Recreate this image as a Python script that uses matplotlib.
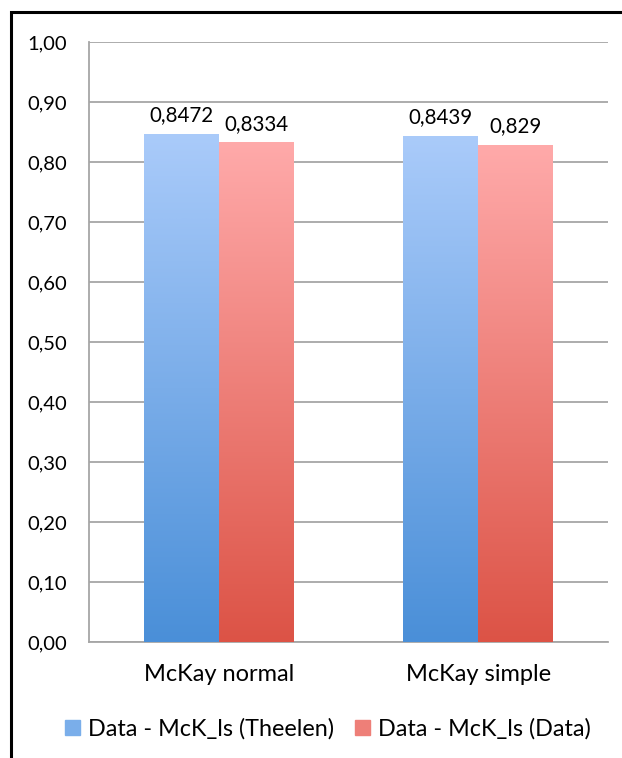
import numpy as np
import matplotlib.pyplot as plt
from matplotlib.patches import Rectangle
from matplotlib.colors import LinearSegmentedColormap

plt.rcParams['font.family'] = ['Lato', 'DejaVu Sans']

categories = ['McKay normal', 'McKay simple']
theelen = [0.8472, 0.8439]
data_vals = [0.8334, 0.829]
labels_theelen = ['0,8472', '0,8439']
labels_data = ['0,8334', '0,829']
series_names = ['Data - McK_ls (Theelen)', 'Data - McK_ls (Data)']
yticks = np.arange(0, 1.01, 0.1)

fig = plt.figure(figsize=(6.22, 7.58), dpi=100)
ax = fig.add_axes([89/622, 1 - 642/758, (608-89)/622, 600/758])

# verlauf: oben hell, unten dunkel
blue_cm = LinearSegmentedColormap.from_list('b', ['#4a8fd8', '#aacbfa'])
red_cm = LinearSegmentedColormap.from_list('r', ['#dc5346', '#ffaaaa'])
grad = np.linspace(0, 1, 256).reshape(-1, 1)

w = 0.289
x = np.arange(len(categories))

def gradient_bars(xs, vals, cmap, color):
    bars = ax.bar(xs, vals, w, color=color, zorder=2)
    for b in bars:
        x0, y0 = b.get_x(), b.get_y()
        im = ax.imshow(grad, cmap=cmap, origin='lower', aspect='auto',
                       extent=[x0, x0 + b.get_width(), y0, y0 + b.get_height()],
                       zorder=3)
        im.set_clip_path(b)
    return bars

b1 = gradient_bars(x - w/2, theelen, blue_cm, '#7aaeea')
b2 = gradient_bars(x + w/2, data_vals, red_cm, '#ee7f78')

for bars, labs in [(b1, labels_theelen), (b2, labels_data)]:
    for b, lab in zip(bars, labs):
        ax.annotate(lab, (b.get_x() + b.get_width()/2, b.get_height()),
                    xytext=(0, 6), textcoords='offset points',
                    ha='center', va='bottom', fontsize=14.8)

ax.set_xlim(-0.5, 1.5)
ax.set_ylim(0, 1.0)
ax.set_yticks(yticks)
ax.set_yticklabels([f'{t:.2f}'.replace('.', ',') for t in yticks], fontsize=14.5)
ax.set_xticks(x)
ax.set_xticklabels(categories, fontsize=17)
ax.tick_params(axis='y', length=0, pad=16)
ax.tick_params(axis='x', length=0, pad=16)
ax.grid(axis='y', color='#a6a6a6', linewidth=1.3, zorder=0)
ax.set_axisbelow(True)
for s in ['top', 'right']:
    ax.spines[s].set_visible(False)
for s in ['left', 'bottom']:
    ax.spines[s].set_color('#a6a6a6')
    ax.spines[s].set_linewidth(1.3)

h1 = Rectangle((0, 0), 1, 1, color='#7aaeea')
h2 = Rectangle((0, 0), 1, 1, color='#ee7f78')
fig.legend([h1, h2], series_names, loc='center', bbox_to_anchor=(328/622, 1 - 729/758),
           ncol=2, frameon=False, fontsize=16.8, handlelength=0.65, handleheight=0.65,
           handletextpad=0.35, columnspacing=0.9)

# rahmen
fig.patches.append(Rectangle((10.5/622, -0.1), 1.2, 1 - 11.5/758 + 0.1,
                             transform=fig.transFigure, fill=False,
                             edgecolor='black', linewidth=2.2))

fig.savefig('out.png', dpi=100)
